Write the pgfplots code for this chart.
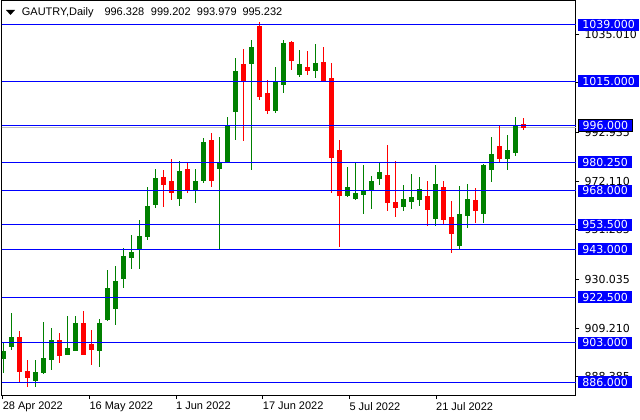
\documentclass[border=0pt]{standalone}
\usepackage{pgfplots}
\pgfplotsset{compat=1.18}
\usepackage{pgfplotstable}
\usepackage{fontspec}
\setmainfont{Liberation Sans}
\newfontfamily\dvs{DejaVu Sans}
\definecolor{cgreen}{RGB}{0,128,0}
\definecolor{cred}{RGB}{255,0,0}
\definecolor{cblue}{RGB}{0,0,255}
\definecolor{cgray}{RGB}{192,192,192}
\newcommand\fs{\fontsize{11bp}{13bp}\selectfont}
\newcommand\lab[3][]{\node[fill=cblue, text=white, font=\dvs\fs, anchor=west, inner xsep=4.5bp, inner ysep=0pt, minimum height=12bp, xshift=1.9bp, #1] at (axis cs:71.6,#2) {#3};}

\pgfplotstableread{
k O H L C
0 896.0 902.7 890.1 899.4
1 901.3 915.7 899.8 905.4
4 886.7 895.6 884.1 890.4
5 890.1 911.8 889.6 896.4
6 895.6 909.3 891.3 904.1
8 898.1 914.4 897.8 900.7
9 899.8 914.4 899.5 911.0
12 899.4 913.2 892.6 911.0
13 912.7 934.1 912.3 926.0
14 917.4 935.8 910.6 929.4
15 930.3 943.6 926.4 939.7
16 939.3 949.1 934.6 941.4
17 943.1 955.6 934.6 948.3
18 948.3 969.7 947.0 961.2
19 962.0 977.4 960.7 973.1
22 964.5 980.8 961.6 976.5
24 968.0 977.4 962.9 971.9
25 972.3 990.7 971.4 988.6
27 977.4 991.1 942.7 980.0
28 980.3 999.6 980.0 995.8
29 1001.8 1024.9 989.8 1019.3
31 1022.7 1032.6 977.0 1029.6
34 1002.3 1021.2 1001.4 1014.3
35 1013.3 1032.6 1009.9 1031.3
37 1017.6 1028.3 1016.7 1022.3
39 1019.3 1030.9 1016.3 1022.7
43 965.8 978.3 965.4 969.3
44 964.6 980.0 964.2 966.7
45 966.3 979.1 958.2 968.0
46 968.0 974.4 960.3 971.9
47 973.1 980.0 970.6 975.7
50 961.2 970.6 959.4 964.2
51 963.3 975.2 960.3 965.0
52 964.2 974.0 961.6 968.4
54 956.0 979.1 953.0 970.6
57 944.4 970.1 943.1 957.7
58 957.3 971.0 952.2 964.2
60 958.2 979.6 954.3 978.7
61 977.0 991.1 971.9 983.4
63 981.7 992.0 977.0 985.1
64 984.2 999.6 982.9 995.8
}\bull

\pgfplotstableread{
k O H L C
2 905.4 908.0 886.3 890.5
3 890.8 895.6 884.1 888.0
7 904.1 907.1 894.3 897.4
10 911.0 916.6 897.8 898.1
11 902.4 908.4 893.4 900.2
20 973.9 976.9 961.1 970.9
21 971.9 981.7 964.2 967.2
23 977.0 980.0 967.2 968.0
26 989.4 992.8 969.7 972.3
30 1021.9 1028.7 989.4 1015.0
32 1038.2 1040.3 1006.9 1008.2
33 1009.5 1015.6 1001.0 1002.3
36 1031.7 1032.0 1019.7 1023.6
38 1021.0 1027.9 1017.6 1019.7
40 1023.1 1029.6 1014.8 1015.0
41 1015.9 1022.7 967.2 982.1
42 985.1 989.8 943.9 965.8
48 974.4 987.7 959.4 962.9
49 962.9 980.8 956.9 960.7
53 965.4 972.3 953.0 959.9
55 969.3 972.3 953.9 955.6
56 956.4 963.7 941.4 949.6
59 963.7 969.3 954.3 959.4
62 986.8 995.8 980.3 981.7
65 996.328 999.202 993.979 995.232
}\bear

\begin{document}
\begin{tikzpicture}
\useasboundingbox (-1.8bp,-24.5bp) rectangle (638.2bp,395.5bp);
\begin{axis}[
  at={(0,0)}, anchor=south west,
  scale only axis, width=574bp, height=395bp,
  xmin=-0.15, xmax=71.6, ymin=880.35, ymax=1049.49,
  axis line style={line width=1bp, black},
  xtick pos=left, ytick pos=right, yticklabel pos=right,
  tick align=outside, major tick length=3.5bp,
  tick style={black, line width=1bp},
  xtick={-0.04,10.79,21.625,32.46,43.29,54.125},
  xticklabels={28 Apr 2022,16 May 2022,1 Jun 2022,17 Jun 2022,5 Jul 2022,21 Jul 2022},
  xticklabel style={font=\fs, anchor=north west, inner sep=0pt, yshift=-3bp},
  ytick={1035.010,1014.185,992.935,972.110,951.285,930.035,909.210,888.385},
  yticklabels={1035.010,{},992.935,972.110,951.285,930.035,909.210,888.385},
  yticklabel style={font=\dvs\fs, anchor=west, inner sep=0pt, xshift=5bp},
  after end axis/.code={
    \lab{1039}{1039.000}
    \lab{1015}{1015.000}
    \lab[draw=black, line width=0.8bp]{996}{996.000}
    \lab{980.25}{980.250}
    \lab{968}{968.000}
    \lab{953.5}{953.500}
    \lab{943}{943.000}
    \lab{922.5}{922.500}
    \lab{903}{903.000}
    \lab{886}{886.000}
  },
]
% bid line
\addplot[cgray, line width=1bp, forget plot] coordinates {(-1,995.232) (80,995.232)};
% wicks
\addplot[draw=none, mark=none, forget plot, error bars/.cd, y dir=both, y explicit, error mark=none,
  error bar style={draw=cgreen, line width=1bp}]
  table[x=k, y expr={(\thisrow{H}+\thisrow{L})/2}, y error expr={(\thisrow{H}-\thisrow{L})/2}] {\bull};
\addplot[draw=none, mark=none, forget plot, error bars/.cd, y dir=both, y explicit, error mark=none,
  error bar style={draw=cred, line width=1bp}]
  table[x=k, y expr={(\thisrow{H}+\thisrow{L})/2}, y error expr={(\thisrow{H}-\thisrow{L})/2}] {\bear};
% bodies
\addplot[draw=none, mark=none, forget plot, error bars/.cd, y dir=both, y explicit, error mark=none,
  error bar style={draw=cgreen, line width=5bp, line cap=butt}]
  table[x=k, y expr={(\thisrow{O}+\thisrow{C})/2}, y error expr={abs(\thisrow{C}-\thisrow{O})/2+0.2}] {\bull};
\addplot[draw=none, mark=none, forget plot, error bars/.cd, y dir=both, y explicit, error mark=none,
  error bar style={draw=cred, line width=5bp, line cap=butt}]
  table[x=k, y expr={(\thisrow{O}+\thisrow{C})/2}, y error expr={abs(\thisrow{C}-\thisrow{O})/2+0.2}] {\bear};
% horizontal levels
\pgfplotsinvokeforeach{1039,1015,996,980.25,968,953.5,943,922.5,903,886}{
  \addplot[cblue, line width=1bp, forget plot] coordinates {(-1,#1) (80,#1)};
}
\end{axis}
\fill[black] (4.2bp,385.5bp) -- (13.2bp,385.5bp) -- (8.7bp,380.5bp) -- cycle;
\node[anchor=base west, inner sep=0pt, font=\fs] at (19.9bp,379.8bp) {GAUTRY,Daily};
\node[anchor=base west, inner sep=0pt, font=\fs] at (102.5bp,379.8bp) {996.328};
\node[anchor=base west, inner sep=0pt, font=\fs] at (148.9bp,379.8bp) {999.202};
\node[anchor=base west, inner sep=0pt, font=\fs] at (194.9bp,379.8bp) {993.979};
\node[anchor=base west, inner sep=0pt, font=\fs] at (240.5bp,379.8bp) {995.232};
\end{tikzpicture}
\end{document}
